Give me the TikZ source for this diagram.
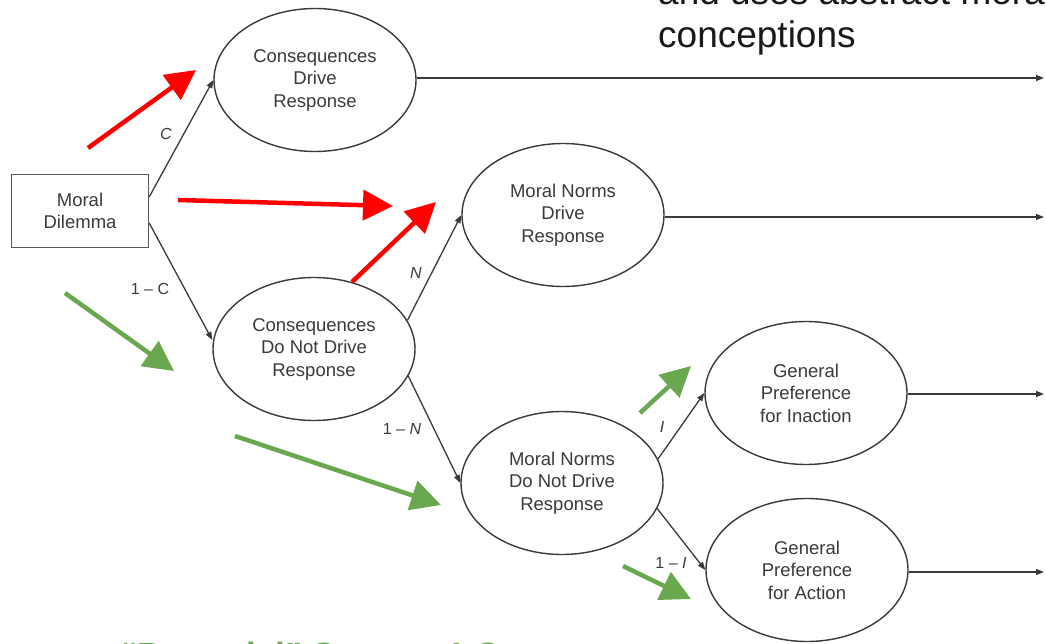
\documentclass[tikz,border=0pt]{standalone}
\usepackage{fontspec}
\setmainfont{Liberation Sans}
\usetikzlibrary{arrows.meta,shapes.geometric}
\definecolor{ink}{HTML}{3A3A3A}
\definecolor{redA}{HTML}{FF0000}
\definecolor{greenA}{HTML}{6AA84F}
\begin{document}
\begin{tikzpicture}[x=1pt,y=-1pt,
  state/.style={ellipse,draw=ink,line width=1.4pt,inner sep=0pt,minimum width=202pt,minimum height=143pt,align=center,text=ink,font=\fontsize{18.5}{22.5}\selectfont},
  boxnode/.style={rectangle,draw=ink!85,line width=1.4pt,inner sep=0pt,minimum width=137pt,minimum height=73pt,align=center,text=ink,font=\fontsize{18.5}{22}\selectfont},
  link/.style={draw=ink,line width=1.3pt,-{Triangle[length=8pt,width=6pt]}},
  prob/.style={text=ink,inner sep=0pt,font=\fontsize{16}{19}\selectfont},
  redarrow/.style={draw=redA,line width=4.5pt,-{Triangle[length=30pt,width=30pt]}},
  greenarrow/.style={draw=greenA,line width=4.5pt,-{Triangle[length=30pt,width=30pt]}}]
\useasboundingbox (0,0) rectangle (1046,644);
\clip (0,0) rectangle (1046,644);
\fill[white] (0,0) rectangle (1046,644);

% top (clipped) text
\node[anchor=base west,inner sep=0pt,text=black!90,font=\fontsize{37}{43}\selectfont] (t1) at (658,5) {and uses abstract moral};
\node[anchor=base west,inner sep=0pt,text=black!90,font=\fontsize{37}{43}\selectfont] (t2) at (658,48) {conceptions};
% bottom (clipped) text
\node[anchor=base west,inner sep=0pt,text=greenA,font=\bfseries\fontsize{35}{40}\selectfont] (t3) at (120,667) {“Potential” System 1 St};

% nodes
\node[boxnode] (md) at (80,211) {Moral\\Dilemma};
\node[state] (cdr) at (315,80) {Consequences\\Drive\\Response};
\node[state] (cnd) at (314,349) {Consequences\\Do Not Drive\\Response};
\node[state] (mdr) at (563,215) {Moral Norms\\Drive\\Response};
\node[state] (mnd) at (562,483) {Moral Norms\\Do Not Drive\\Response};
\node[state] (gpi) at (806,393) {General\\Preference\\for Inaction};
\node[state] (gpa) at (807,570) {General\\Preference\\for Action};

% connectors
\draw[link] ([yshift=14pt]md.east) -- (cdr.west);
\draw[link] ([yshift=-12pt]md.east) -- ([yshift=9pt]cnd.west);
\draw[link] (cnd.17) -- (mdr.west);
\draw[link] (cnd.-16) -- (mnd.west);
\draw[link] (mnd.14) -- (gpi.west);
\draw[link] (mnd.-15) -- (gpa.west);

\coordinate (e1) at (1044,78);
\coordinate (e2) at (1044,217);
\coordinate (e3) at (1044,394);
\coordinate (e4) at (1044,572);
\draw[link] (cdr.east |- e1) -- (e1);
\draw[link] (mdr.east |- e2) -- (e2);
\draw[link] (gpi.east |- e3) -- (e3);
\draw[link] (gpa.east |- e4) -- (e4);

% probabilities
\node[prob] (pc) at (166,134) {\itshape C};
\node[prob] (p1c) at (150,289) {1 – C};
\node[prob] (pn) at (416,273) {\itshape N};
\node[prob] (p1n) at (402,429) {1 – \itshape N};
\node[prob] (pi) at (662,427) {\itshape I};
\node[prob] (p1i) at (671,563) {1 – \itshape I};

% highlight arrows
\coordinate (r1a) at (88,148);  \coordinate (r1b) at (196,70);
\coordinate (r2a) at (178,200); \coordinate (r2b) at (393,206);
\coordinate (r3a) at (352,282); \coordinate (r3b) at (436,202);
\draw[redarrow] (r1a) -- (r1b);
\draw[redarrow] (r2a) -- (r2b);
\draw[redarrow] (r3a) -- (r3b);
\coordinate (g1a) at (65,293);  \coordinate (g1b) at (174,371);
\coordinate (g2a) at (235,436); \coordinate (g2b) at (441,505);
\coordinate (g3a) at (640,413); \coordinate (g3b) at (691,366);
\coordinate (g4a) at (623,566); \coordinate (g4b) at (691,599);
\draw[greenarrow] (g1a) -- (g1b);
\draw[greenarrow] (g2a) -- (g2b);
\draw[greenarrow] (g3a) -- (g3b);
\draw[greenarrow] (g4a) -- (g4b);
\end{tikzpicture}
\end{document}
